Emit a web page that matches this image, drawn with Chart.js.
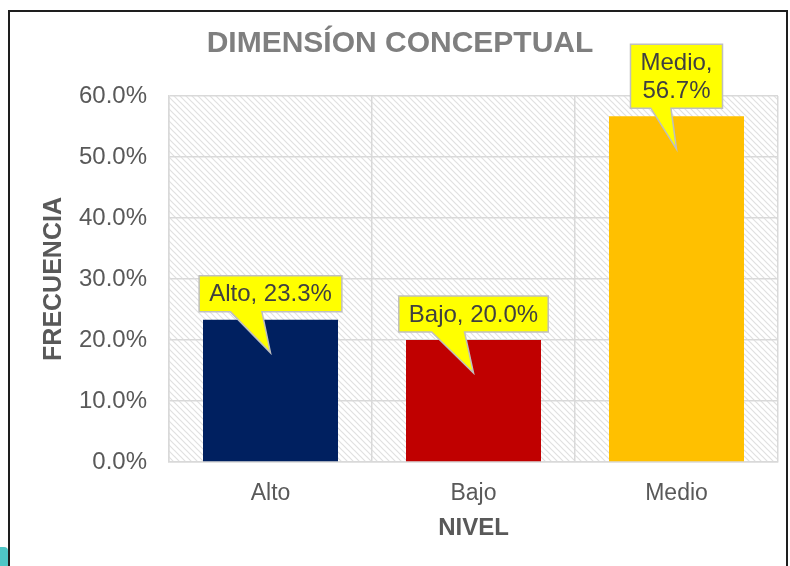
<!DOCTYPE html>
<html>
<head>
<meta charset="utf-8">
<script src="https://cdn.jsdelivr.net/npm/chart.js@4.4.0/dist/chart.umd.min.js"></script>
<style>
html,body{margin:0;padding:0;background:#fff;}
body{width:790px;height:566px;overflow:hidden;position:relative;}
#marco{position:absolute;left:8px;top:10px;width:780px;height:620px;border:2px solid #1e1e1e;box-sizing:border-box;}
#marca{position:absolute;left:0;top:547px;width:8px;height:19px;background:#4fc6c6;border-top-right-radius:4px;}
canvas{position:absolute;left:0;top:0;}
</style>
</head>
<body>
<div id="marco"></div>
<div id="marca"></div>
<canvas id="grafico" width="790" height="566"></canvas>
<script>
const niveles = ["Alto", "Bajo", "Medio"]
const frecuencia = [23.3, 20.0, 56.7]
const colores = ["#002060", "#C00000", "#FFC000"]
const ejeY = { min: 0, max: 60, paso: 10 }

const fuente = '"Liberation Sans", Arial, sans-serif'
Chart.defaults.font.family = fuente

// fondo rayado del area del grafico
function patronRayado(){
    const c = document.createElement('canvas')
    c.width = 6; c.height = 6
    const g = c.getContext('2d')
    g.fillStyle = '#ffffff'
    g.fillRect(0, 0, 6, 6)
    g.strokeStyle = '#e0e0e0'
    g.lineWidth = 1.2
    g.beginPath()
    g.moveTo(-1, -1); g.lineTo(7, 7)
    g.moveTo(5, -1); g.lineTo(7, 1)
    g.moveTo(-1, 5); g.lineTo(1, 7)
    g.stroke()
    return g.createPattern(c, 'repeat')
}

const rayado = {
    id: 'rayado',
    beforeDraw(chart){
        const {ctx, chartArea: a} = chart
        ctx.save()
        ctx.fillStyle = patronRayado()
        ctx.fillRect(a.left, a.top, a.right - a.left, a.bottom - a.top)
        ctx.restore()
    }
}

// etiquetas tipo globo amarillo
const globos = {
    id: 'globos',
    afterDatasetsDraw(chart){
        const ctx = chart.ctx
        const area = chart.chartArea
        const meta = chart.getDatasetMeta(0)
        ctx.save()
        ctx.font = '24px ' + fuente
        meta.data.forEach((bar, i) => {
            const padX = 10, padY = 4, lineH = 28
            let lineas = [niveles[i] + ', ' + frecuencia[i].toFixed(1) + '%']
            if(bar.y - 8 - (lineH + 2*padY) < area.top){
                lineas = [niveles[i] + ',', frecuencia[i].toFixed(1) + '%']
            }
            const w = Math.max(...lineas.map(l => ctx.measureText(l).width)) + 2*padX
            const h = lineas.length*lineH + 2*padY
            const cx = bar.x
            const bottom = bar.y - 8
            const top = bottom - h
            const left = cx - w/2
            ctx.beginPath()
            ctx.moveTo(left, top)
            ctx.lineTo(left + w, top)
            ctx.lineTo(left + w, bottom)
            ctx.lineTo(cx - 0.06*w, bottom)
            ctx.lineTo(cx, bar.y + 33)
            ctx.lineTo(cx - 0.28*w, bottom)
            ctx.lineTo(left, bottom)
            ctx.closePath()
            ctx.fillStyle = '#FFFF00'
            ctx.fill()
            ctx.strokeStyle = '#BFBFBF'
            ctx.lineWidth = 1.5
            ctx.stroke()
            ctx.fillStyle = '#404040'
            ctx.textAlign = 'center'
            ctx.textBaseline = 'middle'
            lineas.forEach((l, k) => ctx.fillText(l, cx, top + padY + lineH*(k + 0.5) + 1))
        })
        ctx.restore()
    }
}

const context = document.getElementById('grafico').getContext('2d')
new Chart(context, {
    type: 'bar',
    data: {
        labels: niveles,
        datasets: [{
            data: frecuencia,
            backgroundColor: colores,
            borderWidth: 0,
            barPercentage: 0.665,
            categoryPercentage: 1
        }]
    },
    options: {
        responsive: false,
        animation: false,
        devicePixelRatio: 1,
        layout: { padding: { left: 22, right: 12, top: 0, bottom: 20 } },
        scales: {
            x: {
                grid: { color: '#d9d9d9', lineWidth: 1.5, drawTicks: false, offset: true },
                border: { color: '#d9d9d9', width: 1.5 },
                ticks: { color: '#595959', font: { size: 23 }, padding: 18 },
                title: { display: true, text: 'NIVEL', color: '#595959', font: { size: 24, weight: 'bold' }, padding: { top: 0, bottom: 3 } },
                afterFit(scale){ scale.height = 84 }
            },
            y: {
                min: ejeY.min,
                max: ejeY.max,
                grid: { color: '#d9d9d9', lineWidth: 1.5, drawTicks: false },
                border: { color: '#d9d9d9', width: 1.5 },
                ticks: {
                    stepSize: ejeY.paso,
                    color: '#595959',
                    font: { size: 24 },
                    padding: 22,
                    callback: v => v.toFixed(1) + '%'
                },
                title: { display: true, text: 'FRECUENCIA', color: '#595959', font: { size: 25, weight: 'bold' }, padding: { top: 17, bottom: 0 } },
                afterFit(scale){ scale.width = 147 }
            }
        },
        plugins: {
            legend: { display: false },
            tooltip: { enabled: false },
            title: {
                display: true,
                text: 'DIMENSÍON CONCEPTUAL',
                color: '#7f7f7f',
                font: { size: 30, weight: 'bold' },
                padding: { top: 26, bottom: 34 }
            }
        }
    },
    plugins: [rayado, globos]
})
</script>
</body>
</html>
